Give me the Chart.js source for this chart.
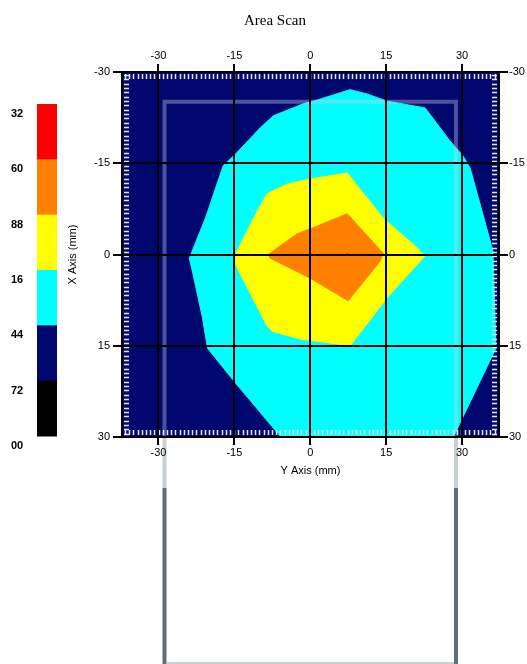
<!DOCTYPE html>
<html>
<head>
<meta charset="utf-8">
<style>
  html, body { margin: 0; padding: 0; background: #fff; overflow: hidden; }
</style>
<script src="https://cdn.jsdelivr.net/npm/chart.js"></script>
</head>
<body>
<canvas id="chart" width="527" height="664"></canvas>
<script>
// DATA
const chartTitle = "Area Scan";
const xTicks = [-30, -15, 0, 15, 30];
const yTicks = [-30, -15, 0, 15, 30];
// colour scale, top to bottom (labels as they show, clipped at the left edge)
const levelLabels = ["32", "60", "88", "16", "44", "72", "00"];
const levelColors = ["#ff0000", "#ff8000", "#ffff00", "#00ffff", "#000870", "#000000"];

// contour outlines (Y axis mm, X axis mm)
const cyanX = [-5.3, -14.8, -20.3, -21.3, -23.3, -23.9, -20.7, -17.2, -14.8, -9.9, -7.3, -1.0, 0.6, 7.9, 11.2, 15.2, 22.7, 27.6, 30.2, 31.6, 36.1, 36.7, 28.0];
const cyanY = [30.5, 21.1, 15.4, 10.4, 2.7, 0.6, -6.0, -14.6, -16.5, -20.8, -22.8, -24.9, -25.2, -27.1, -26.4, -25.2, -24.1, -18.7, -16.2, -14.2, -0.6, 15.4, 30.5];
const yellowX = [-14.8, -11.2, -8.5, -4.5, 0, 7.3, 14.4, 21.1, 22.7, 15.2, 7.9, -2.0, -7.5, -8.5, -14.8];
const yellowY = [0, -6.0, -10.0, -11.6, -12.4, -13.4, -6.0, -1.1, 0.2, 7.1, 15.0, 13.9, 12.6, 11.8, 1.6];
const orangeX = [-8.3, -2.6, 0, 7.3, 14.4, 13.8, 7.5, 0, -7.9];
const orangeY = [0, -3.4, -4.2, -6.7, -0.2, 1.1, 7.6, 3.9, 0.6];
const peakX = [7.3];
const peakY = [0];

// probe outline and minor tick spacing
const probeX = [-28.8, 28.8];
const probeTop = -25.1;
const minorStepX = 0.83;
const minorStepY = 0.71;

const toPoints = (xs, ys) => xs.map((x, i) => ({ x: x, y: ys[i] }));
const closed = (xs, ys) => {
  const pts = toPoints(xs, ys);
  pts.push(pts[0]);
  return pts;
};

const polygon = (data, color, order) => ({
  data: data,
  showLine: true,
  fill: "shape",
  backgroundColor: color,
  borderColor: color,
  borderWidth: 1,
  pointRadius: 0,
  tension: 0,
  order: order,
});

// extra drawing: background, colour bar, probe, minor ticks
const decor = {
  id: "decor",
  beforeDraw(chart) {
    const { ctx, chartArea } = chart;
    const x = chart.scales.x;
    ctx.save();
    ctx.fillStyle = "#fff";
    ctx.fillRect(0, 0, chart.width, chart.height);
    // probe legs below the plot
    probeX.forEach((v) => {
      const px = x.getPixelForValue(v);
      ctx.fillStyle = "#c8d0d4";
      ctx.fillRect(px - 2, chartArea.bottom, 4, 51);
      ctx.fillStyle = "#5f6f7a";
      ctx.fillRect(px - 2, chartArea.bottom + 51, 4, chart.height - chartArea.bottom - 51);
    });
    ctx.fillStyle = "#c8d0d4";
    const l = x.getPixelForValue(probeX[0]);
    const r = x.getPixelForValue(probeX[1]);
    ctx.fillRect(l + 2, chart.height - 2, r - l - 4, 2);
    ctx.restore();
  },
  beforeDatasetsDraw(chart) {
    const { ctx, chartArea } = chart;
    ctx.save();
    ctx.fillStyle = "#000870";
    ctx.fillRect(chartArea.left, chartArea.top, chartArea.width, chartArea.height);
    ctx.restore();
  },
  afterDatasetsDraw(chart) {
    const { ctx, chartArea } = chart;
    const x = chart.scales.x;
    const y = chart.scales.y;
    ctx.save();
    // translucent probe outline
    const l = x.getPixelForValue(probeX[0]);
    const r = x.getPixelForValue(probeX[1]);
    const t = y.getPixelForValue(probeTop);
    ctx.strokeStyle = "rgba(205, 205, 225, 0.38)";
    ctx.lineWidth = 4;
    ctx.beginPath();
    ctx.moveTo(l, chartArea.bottom);
    ctx.lineTo(l, t);
    ctx.lineTo(r, t);
    ctx.lineTo(r, chartArea.bottom);
    ctx.stroke();
    // white minor ticks inside the frame
    ctx.strokeStyle = "#e8e8f0";
    ctx.lineWidth = 1.5;
    ctx.beginPath();
    for (let v = x.min + 0.6; v < x.max - 0.3; v += minorStepX) {
      const px = Math.round(x.getPixelForValue(v)) + 0.5;
      ctx.moveTo(px, chartArea.top + 2);
      ctx.lineTo(px, chartArea.top + 7);
      ctx.moveTo(px, chartArea.bottom - 2);
      ctx.lineTo(px, chartArea.bottom - 7);
    }
    for (let v = y.min + 0.5; v < y.max - 0.3; v += minorStepY) {
      const py = Math.round(y.getPixelForValue(v)) + 0.5;
      ctx.moveTo(chartArea.left + 2, py);
      ctx.lineTo(chartArea.left + 7, py);
      ctx.moveTo(chartArea.right - 2, py);
      ctx.lineTo(chartArea.right - 7, py);
    }
    ctx.stroke();
    ctx.restore();
  },
  afterDraw(chart) {
    const { ctx } = chart;
    ctx.save();
    // title
    ctx.fillStyle = "#000";
    ctx.font = "15px 'Liberation Serif'";
    ctx.textAlign = "center";
    ctx.textBaseline = "middle";
    ctx.fillText(chartTitle, 275, 21);
    // colour bar
    const top = 104, bottom = 436, left = 37, w = 20;
    const h = (bottom - top) / levelColors.length;
    levelColors.forEach((c, i) => {
      ctx.fillStyle = c;
      ctx.fillRect(left, top + i * h, w, h + 0.5);
    });
    ctx.fillStyle = "#000";
    ctx.font = "bold 11px 'Liberation Sans'";
    ctx.textAlign = "left";
    levelLabels.forEach((s, i) => {
      ctx.fillText(s, 11, top + i * h + 10);
    });
    ctx.restore();
  },
};

const tickFont = { family: "'Liberation Sans'", size: 11 };
const setTicks = (list) => (scale) => {
  scale.ticks = list.map((v) => ({ value: v }));
};

const config = {
  type: "scatter",
  data: {
    datasets: [
      { data: toPoints(peakX, peakY), pointRadius: 1.5, pointBackgroundColor: "#ff0000", pointBorderWidth: 0, order: 0 },
      polygon(closed(orangeX, orangeY), "#ff8000", 1),
      polygon(closed(yellowX, yellowY), "#ffff00", 2),
      polygon(closed(cyanX, cyanY), "#00ffff", 3),
    ],
  },
  options: {
    responsive: false,
    animation: false,
    devicePixelRatio: 1,
    layout: { padding: { top: 30, left: 62, right: 0, bottom: 182 } },
    scales: {
      x: {
        type: "linear",
        position: "bottom",
        min: -37.2,
        max: 37.3,
        afterBuildTicks: setTicks(xTicks),
        afterFit: (s) => { s.height = 45; },
        grid: { color: "#000", lineWidth: 2, tickLength: 8, z: 1 },
        border: { color: "#000", width: 2, z: 1 },
        ticks: { color: "#000", font: tickFont, padding: 1 },
        title: { display: true, text: "Y Axis (mm)", color: "#000", font: tickFont, padding: { top: 0, bottom: 4 } },
      },
      x2: {
        type: "linear",
        position: "top",
        min: -37.2,
        max: 37.3,
        afterBuildTicks: setTicks(xTicks),
        afterFit: (s) => { s.height = 42; },
        grid: { color: "#000", lineWidth: 2, tickLength: 8, drawOnChartArea: false, z: 1 },
        border: { color: "#000", width: 2, z: 1 },
        ticks: { color: "#000", font: tickFont, padding: 1 },
      },
      y: {
        type: "linear",
        position: "left",
        min: -30,
        max: 30,
        reverse: true,
        afterBuildTicks: setTicks(yTicks),
        afterFit: (s) => { s.width = 60; },
        grid: { color: "#000", lineWidth: 2, tickLength: 9, z: 1 },
        border: { color: "#000", width: 2, z: 1 },
        ticks: { color: "#000", font: tickFont, padding: 3 },
        title: { display: true, text: "X Axis (mm)", color: "#000", font: tickFont, padding: { top: 4, bottom: 0 } },
      },
      y2: {
        type: "linear",
        position: "right",
        min: -30,
        max: 30,
        reverse: true,
        afterBuildTicks: setTicks(yTicks),
        afterFit: (s) => { s.width = 28; },
        grid: { color: "#000", lineWidth: 2, tickLength: 9, drawOnChartArea: false, z: 1 },
        border: { color: "#000", width: 2, z: 1 },
        ticks: { color: "#000", font: tickFont, padding: 1 },
      },
    },
    plugins: {
      legend: { display: false },
      tooltip: { enabled: false },
    },
  },
  plugins: [decor],
};

const chart = new Chart(document.getElementById("chart"), config);
</script>
</body>
</html>
